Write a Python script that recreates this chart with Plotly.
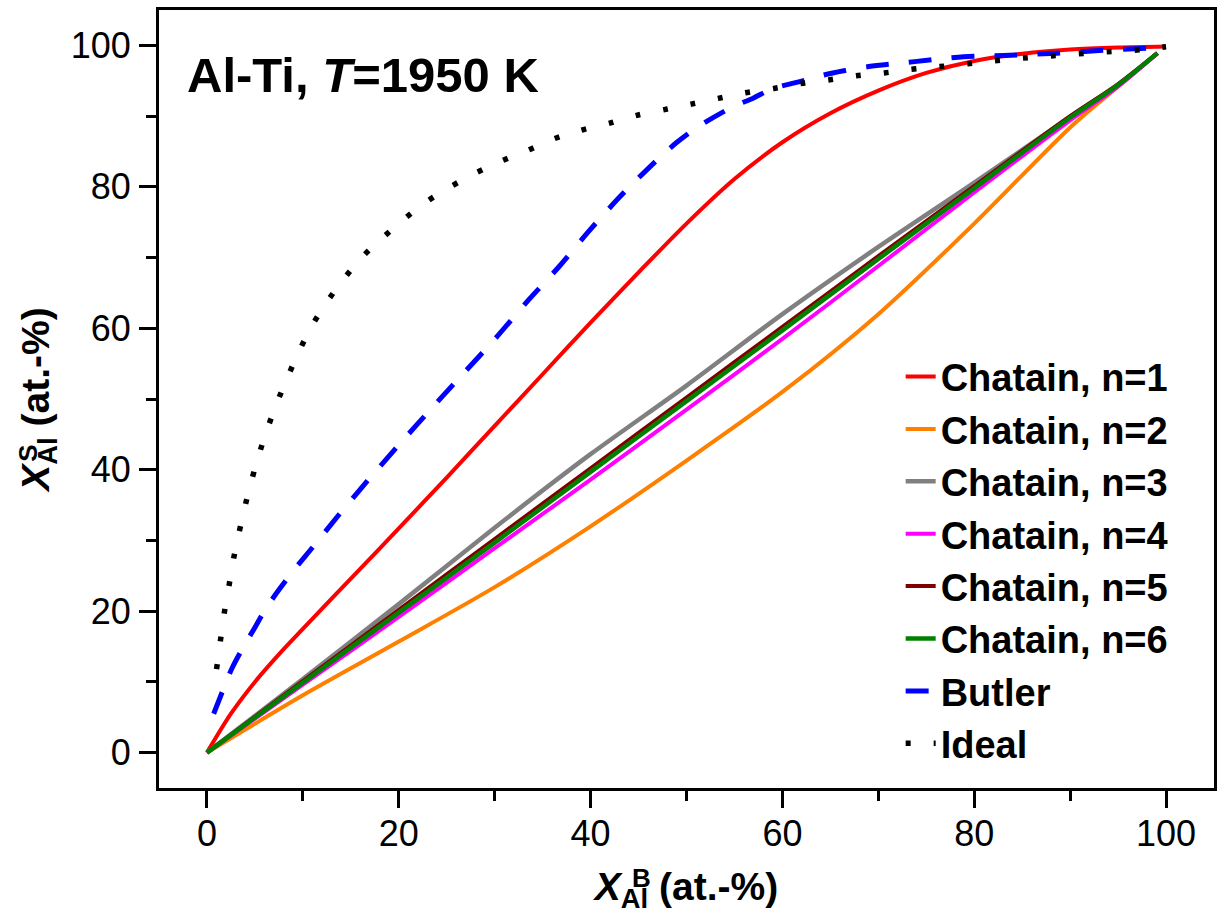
import plotly.graph_objects as go

# ---- data ----
x_n1 = [0, 2.5, 5, 7.5, 10, 15, 20, 25, 30, 35, 40, 45, 50, 55, 60, 65, 70, 75, 80, 85, 90, 95, 100]
y_n1 = [0, 5.5, 10.0, 13.9, 17.5, 24.6, 31.7, 38.9, 46.2, 53.5, 60.8, 67.9, 74.8, 81.1, 86.3, 90.4, 93.6, 96.1, 97.8, 98.8, 99.4, 99.7, 99.85]

x_chat = [0, 10, 20, 30, 40, 50, 60, 70, 80, 90, 95, 99.1]
y_n2 = [0, 8.1, 15.7, 23.4, 32.0, 41.3, 51.0, 62.0, 74.8, 88.4, 94.2, 98.9]
y_n3 = [0, 10.4, 21.0, 31.8, 42.2, 51.9, 62.0, 71.5, 80.6, 89.9, 94.5, 98.9]
y_n4 = [0, 9.6, 19.2, 28.9, 38.6, 48.5, 58.5, 68.8, 79.2, 89.4, 94.2, 98.9]
y_n5 = [0, 10.1, 20.2, 30.2, 40.2, 50.2, 60.2, 70.2, 80.1, 90.0, 94.5, 98.9]
y_n6 = [0, 9.9, 19.8, 29.7, 39.7, 49.7, 59.7, 69.8, 79.8, 89.8, 94.4, 98.9]

x_butler = [0.7, 1.6, 2.6, 3.7, 5.0, 6.1, 7.6, 9.0, 11.0, 13.8, 16.9, 20.2, 23.5, 26.8, 30.1, 33.4,
            36.7, 39.8, 43.2, 46.7, 49.0, 51.2, 54.8, 56.9, 59.0, 61.6, 64.3, 66.4, 69.0, 73.8,
            78.9, 83.7, 88.6, 93.4, 100]
y_butler = [5.5, 8.6, 11.9, 14.7, 17.7, 20.3, 23.2, 25.7, 29.0, 33.7, 38.7, 43.8, 48.8, 53.7, 58.6, 63.8,
            68.7, 73.7, 78.8, 83.5, 86.3, 88.5, 91.3, 92.5, 93.9, 94.8, 95.8, 96.4, 97.0, 97.7,
            98.4, 98.6, 98.9, 99.3, 99.7]

x_ideal = [1.0, 1.4, 1.8, 2.3, 2.8, 4, 5, 6, 7, 8, 9.8, 11.1, 12.7, 14.4, 16.2, 18.4, 20.7, 23.0, 25.5,
           28.1, 30.8, 33.5, 36.2, 39.0, 42.0, 44.8, 48, 50.5, 53.3, 56.1, 59.1, 61.9, 64.8, 67.7,
           70.6, 73.4, 76.4, 79.3, 82.1, 85.1, 88.0, 90.9, 93.8, 96.7, 100]
y_ideal = [11.8, 15.8, 19.7, 23.6, 27.6, 35.0, 40.2, 44.6, 48.4, 51.8, 57.3, 60.7, 64.1, 67.2, 70.1, 72.9, 75.6,
           78.0, 80.1, 82.0, 83.7, 85.2, 86.8, 88.0, 89.0, 90.1, 91.0, 91.7, 92.5, 93.3, 93.9, 94.6,
           95.1, 95.7, 96.1, 96.6, 97.0, 97.4, 97.8, 98.2, 98.5, 98.8, 99.1, 99.3, 99.8]

tick_vals = [0, 20, 40, 60, 80, 100]

FONT = "Liberation Sans, Arial, Helvetica, sans-serif"

series = [
    ("Chatain, n=1", x_n1, y_n1, "#FF0000", "solid", 4),
    ("Chatain, n=2", x_chat, y_n2, "#FF8000", "solid", 4),
    ("Chatain, n=3", x_chat, y_n3, "#808080", "solid", 4.5),
    ("Chatain, n=4", x_chat, y_n4, "#FF00FF", "solid", 4),
    ("Chatain, n=5", x_chat, y_n5, "#800000", "solid", 4),
    ("Chatain, n=6", x_chat, y_n6, "#008000", "solid", 4.5),
    ("Butler", x_butler, y_butler, "#0000FF", "23px,20px", 5),
    ("Ideal", x_ideal, y_ideal, "#000000", "5px,23px", 5.5),
]

fig = go.Figure()
for name, xs, ys, col, dash, w in series:
    fig.add_trace(go.Scatter(x=xs, y=ys, mode="lines", name=name,
                             line=dict(color=col, width=w, dash=dash, shape="spline", smoothing=0.8)))

axis_common = dict(
    range=[-5, 105], tickvals=tick_vals, ticks="outside", ticklen=17, tickwidth=3,
    tickcolor="black", showline=True, linewidth=3, linecolor="black", mirror=True,
    showgrid=False, zeroline=False,
    tickfont=dict(family=FONT, size=36, color="black"),
    minor=dict(ticks="outside", ticklen=10, tickwidth=3, tickcolor="black", dtick=10, tick0=0),
)

fig.update_layout(
    width=1220, height=924,
    margin=dict(l=159, r=3, t=10, b=136),
    paper_bgcolor="white", plot_bgcolor="white",
    font=dict(family=FONT, color="black"),
    xaxis=dict(**axis_common, ticklabelstandoff=-5,
               title=dict(text="<b><i>X</i><sub>Al</sub> (at.-%)</b>",
                          font=dict(family=FONT, size=39, color="black"), standoff=20)),
    yaxis=dict(**axis_common, ticklabelstandoff=1,
               title=dict(text="<b><i>X</i><sub>Al</sub> (at.-%)</b>",
                          font=dict(family=FONT, size=39, color="black"), standoff=10)),
    legend=dict(x=0.703, y=0.569, xanchor="left", yanchor="top",
                bgcolor="rgba(0,0,0,0)", borderwidth=0,
                font=dict(family=FONT, size=38, color="black", weight="bold"),
                tracegroupgap=0),
    showlegend=True,
)

fig.add_annotation(x=0.0246, y=0.916, xref="paper", yref="paper", xanchor="left", yanchor="middle",
                   text="<b>Al-Ti, <i>T</i>=1950 K</b>", showarrow=False,
                   font=dict(family=FONT, size=49, color="black"))
# superscripts stacked above the subscripts of the axis titles
fig.add_annotation(x=0.457, y=-0.116, xref="paper", yref="paper", xanchor="center", yanchor="middle",
                   text="<b>B</b>", showarrow=False, font=dict(family=FONT, size=26, color="black"))
fig.add_annotation(x=-0.124, y=0.43, xref="paper", yref="paper", xanchor="center", yanchor="middle",
                   text="<b>S</b>", textangle=-90, showarrow=False,
                   font=dict(family=FONT, size=26, color="black"))

fig.write_html("out.html")
